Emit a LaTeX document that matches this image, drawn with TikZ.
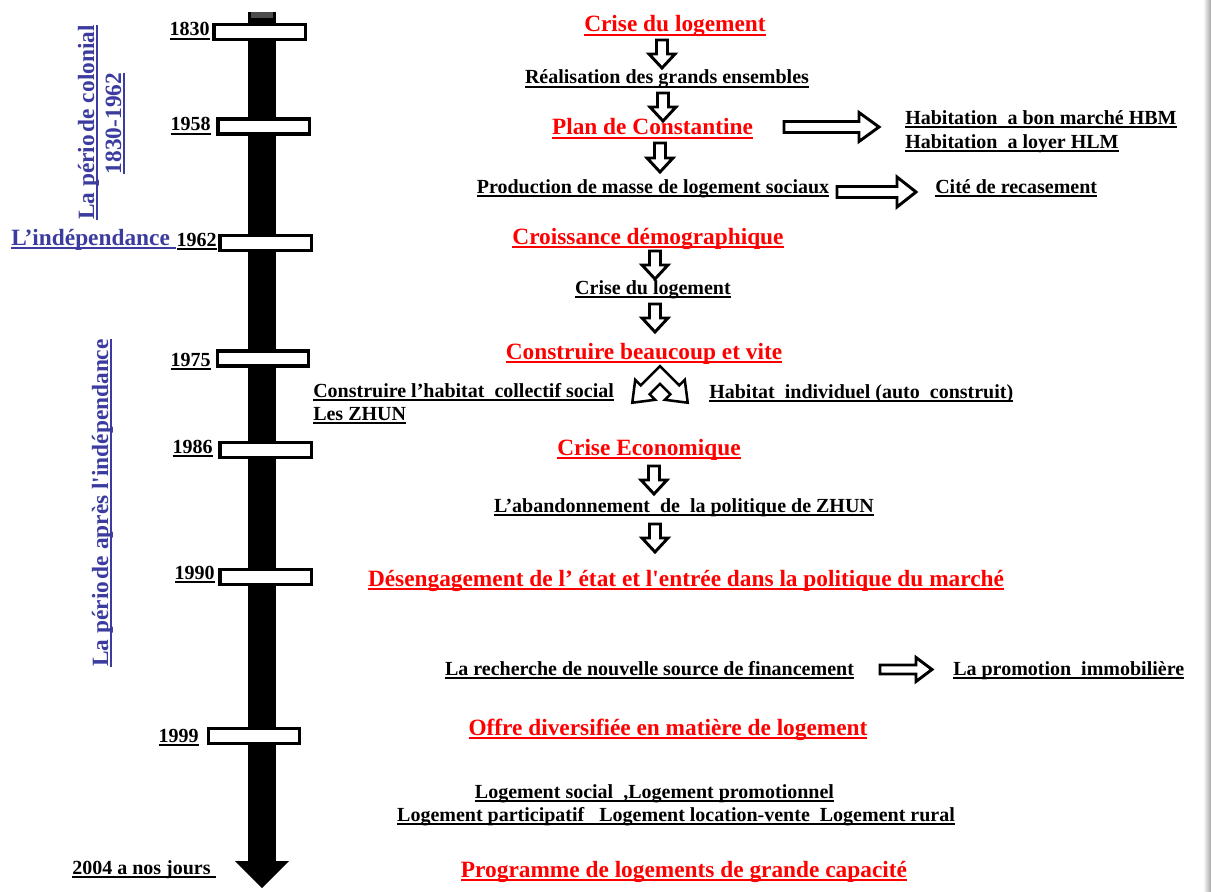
\documentclass[tikz,border=0pt]{standalone}
\usepackage{fontspec}
\setmainfont{Liberation Serif}
\newsavebox\ulbox
\newcommand\ul[1]{\leavevmode\sbox\ulbox{#1}\rlap{\rule[-2.8pt]{\wd\ulbox}{1.1pt}}\usebox\ulbox}
\definecolor{hred}{RGB}{255,0,0}
\definecolor{hblue}{RGB}{60,60,160}
\newcommand\darrow[3]{%
  \draw[hol] (#1-5.5,#2) -- (#1+5.5,#2) -- (#1+5.5,#3-14) -- (#1+13,#3-14) -- (#1,#3) -- (#1-13,#3-14) -- (#1-5.5,#3-14) -- cycle;}
\newcommand\rarrow[6]{%
  \draw[hol] (#1,#3-#4) -- (#2-#6,#3-#4) -- (#2-#6,#3-#5) -- (#2,#3) -- (#2-#6,#3+#5) -- (#2-#6,#3+#4) -- (#1,#3+#4) -- cycle;}
\begin{document}
\begin{tikzpicture}[x=0.75pt,y=-0.75pt,
  blacktxt/.style={font=\bfseries\fontsize{15}{18}\selectfont, inner sep=0pt, text=black},
  redtxt/.style={font=\bfseries\fontsize{17.5}{21}\selectfont, inner sep=0pt, text=hred},
  bluetxt/.style={font=\bfseries\fontsize{17.5}{21}\selectfont, inner sep=0pt, text=hblue},
  yr/.style={font=\bfseries\fontsize{15}{18}\selectfont, inner sep=0pt, anchor=base east},
  ybox/.style={draw=black, line width=2.6pt, fill=white, minimum width=68.6pt, minimum height=11.3pt, inner sep=0pt},
  hol/.style={draw=black, line width=2.2pt, fill=white, line join=miter},
]
\useasboundingbox (0,0) rectangle (1211,892);
\fill[white] (0,0) rectangle (1211,892);
\shade[left color=white, right color=black!35] (1203,0) rectangle (1211,892);

% timeline bar
\fill[black] (248,12) rectangle (276,862);
\fill[black] (235,861) -- (289,861) -- (262,888) -- cycle;
\fill[black!70] (251,12) rectangle (273,18);

% year boxes
\node[ybox] (b1830) at (259.5,32) {};
\node[ybox] (b1958) at (263.5,126.5) {};
\node[ybox] (b1962) at (265.5,243) {};
\node[ybox] (b1975) at (263,358.5) {};
\node[ybox] (b1986) at (265.5,450) {};
\node[ybox] (b1990) at (265.5,577) {};
\node[ybox] (b1999) at (254,736) {};

% year labels
\node[yr] (y1830) at (210,36) {\ul{1830}};
\node[yr] (y1958) at (211,131) {\ul{1958}};
\node[yr] (y1962) at (217,246) {\ul{1962}};
\node[yr] (y1975) at (211,366) {\ul{1975}};
\node[yr] (y1986) at (213,453) {\ul{1986}};
\node[yr] (y1990) at (215,579) {\ul{1990}};
\node[yr] (y1999) at (199,742) {\ul{1999}};
\node[yr, anchor=base west] (y2004) at (72,874) {\ul{2004 a nos jours\ }};

% blue period labels
\node[bluetxt, anchor=base west] (indep) at (11,245) {\ul{L’indépendance\ }};
\node[bluetxt, anchor=base, rotate=90] (colon) at (94,122.5) {\ul{La pério\kern2pt de colonial}};
\node[bluetxt, anchor=base, rotate=90] (dates) at (121,123.5) {\ul{1830-1962}};
\node[bluetxt, anchor=base, rotate=90] (apres) at (108,503) {\ul{La pério\kern2pt de après l\textquotesingle indépendance}};

% red headings
\node[redtxt, anchor=base] (crise1) at (675,32) {\ul{Crise du logement}};
\node[redtxt, anchor=base] (plan) at (652.5,135) {\ul{Plan de Constantine}};
\node[redtxt, anchor=base] (croi) at (648,244) {\ul{Croissance démographique}};
\node[redtxt, anchor=base] (cbv) at (644,359) {\ul{Construire beaucoup et vite}};
\node[redtxt, anchor=base] (ceco) at (649,455) {\ul{Crise Economique}};
\node[redtxt, anchor=base] (deseng) at (686,586) {\ul{Désengagement de l’ état et l\textquotesingle entrée dans la politique du marché}};
\node[redtxt, anchor=base] (offre) at (668,735) {\ul{Offre diversifiée en matière de logement}};
\node[redtxt, anchor=base] (prog) at (684,877) {\ul{Programme de logements de grande capacité}};

% black texts
\node[blacktxt, anchor=base] (real) at (667,84) {\ul{Réalisation des grands ensembles}};
\node[blacktxt, anchor=base west] (hbm) at (905,124) {\ul{Habitation\ \ a bon marché HBM}};
\node[blacktxt, anchor=base west] (hlm) at (905,148) {\ul{Habitation\ \ a loyer HLM}};
\node[blacktxt, anchor=base] (prod) at (653,193) {\ul{Production de masse de logement sociaux}};
\node[blacktxt, anchor=base west] (cite) at (935,193) {\ul{Cité de recasement}};
\node[blacktxt, anchor=base] (crise2) at (653,294) {\ul{Crise du logement}};
\node[blacktxt, anchor=base west] (chab) at (313,397) {\ul{Construire l’habitat\ \ collectif social}};
\node[blacktxt, anchor=base west] (zhun) at (313,420) {\ul{Les ZHUN}};
\node[blacktxt, anchor=base west] (hind) at (709,398) {\ul{Habitat\ \ individuel (auto\ \ construit)}};
\node[blacktxt, anchor=base] (aband) at (684,512) {\ul{L’abandonnement\ \ de\ \ la politique de ZHUN}};
\node[blacktxt, anchor=base] (rech) at (649.5,675) {\ul{La recherche de nouvelle source de financement}};
\node[blacktxt, anchor=base west] (promo) at (953,675) {\ul{La promotion\ \ immobilière}};
\node[blacktxt, anchor=base] (ls1) at (654.5,798) {\ul{Logement social\ \ ,Logement promotionnel}};
\node[blacktxt, anchor=base] (ls2) at (676,821) {\ul{Logement participatif\ \ \ Logement location-vente\ \ Logement rural}};

% hollow down arrows
\darrow{662}{40}{68}
\darrow{663}{93}{121}
\darrow{660}{143}{172}
\darrow{655}{251}{279}
\darrow{655}{304}{332}
\darrow{654}{466}{494}
\darrow{655}{524}{552}

% hollow right arrows
\rarrow{784}{879}{127}{5.5}{14.5}{20}
\rarrow{837}{916}{192}{5.5}{15}{19}
\rarrow{880}{932}{669.5}{4.5}{12}{16}

% split chevron arrow
\begin{scope}[shift={(660,375)}, scale=1.4]
\draw[hol, line width=1.9pt] (0,-6.36) -- (-13.8,7.4) -- (-17.7,3.5) -- (-19.8,19.8) -- (-3.5,17.7) -- (-7.4,13.8) -- (0,6.36) -- (7.4,13.8) -- (3.5,17.7) -- (19.8,19.8) -- (17.7,3.5) -- (13.8,7.4) -- cycle;
\end{scope}
\end{tikzpicture}
\end{document}
